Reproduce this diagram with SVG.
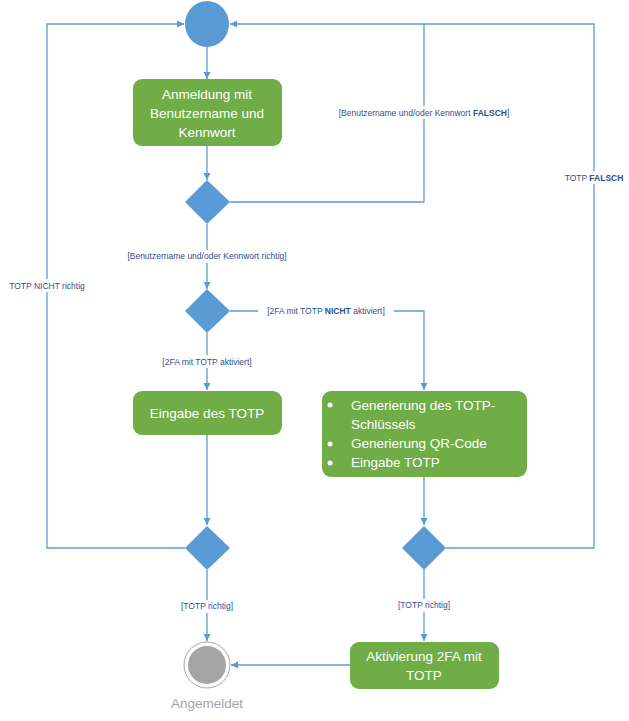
<svg xmlns="http://www.w3.org/2000/svg" width="629" height="721" viewBox="0 0 629 721">
<style>
.c{fill:none;stroke:#5b9bd5;stroke-width:1.3}
.n{fill:#5b9bd5}
.b{fill:#70ad47}
.t{font-family:"Liberation Sans",Arial,sans-serif;font-size:13.5px;fill:#fff;text-anchor:middle}
.l{font-family:"Liberation Sans",Arial,sans-serif;font-size:8.5px;fill:#2f4f8f;text-anchor:middle}
.lb{fill:#fff}
</style>
<defs><marker id="a" markerWidth="8" markerHeight="8" refX="7" refY="4" orient="auto" markerUnits="userSpaceOnUse"><path d="M0,0.5 L7,4 L0,7.5z" fill="#5b9bd5"/></marker></defs>
<rect width="629" height="721" fill="#fff"/>
<g id="connectors">
<path class="c" d="M207,47 V79" marker-end="url(#a)"/>
<path class="c" d="M207,146 V180" marker-end="url(#a)"/>
<path class="c" d="M230,202 H424 V24 H230" marker-end="url(#a)"/>
<path class="c" d="M207,224 V289" marker-end="url(#a)"/>
<path class="c" d="M230,311 H424 V390" marker-end="url(#a)"/>
<path class="c" d="M207,333 V390" marker-end="url(#a)"/>
<path class="c" d="M207,435 V525" marker-end="url(#a)"/>
<path class="c" d="M424,477 V525" marker-end="url(#a)"/>
<path class="c" d="M185,548 H47 V24 H184" marker-end="url(#a)"/>
<path class="c" d="M446,548 H594 V24 H424"/>
<path class="c" d="M207,570 V641" marker-end="url(#a)"/>
<path class="c" d="M424,570 V641" marker-end="url(#a)"/>
<path class="c" d="M350,665 H231" marker-end="url(#a)"/>
<rect x="325" y="106" width="198" height="13" class="lb"/>
<text class="l" x="424" y="116">[Benutzername und/oder Kennwort <tspan font-weight="bold">FALSCH</tspan>]</text>
<rect x="113" y="250" width="188" height="13" class="lb"/>
<text class="l" x="207" y="259">[Benutzername und/oder Kennwort richtig]</text>
<rect x="4" y="279" width="86" height="13" class="lb"/>
<text class="l" x="47" y="289">TOTP NICHT richtig</text>
<rect x="561" y="171" width="66" height="13" class="lb"/>
<text class="l" x="594" y="181">TOTP <tspan font-weight="bold">FALSCH</tspan></text>
<rect x="258" y="305" width="136" height="13" class="lb"/>
<text class="l" x="326" y="314">[2FA mit TOTP <tspan font-weight="bold">NICHT</tspan> aktiviert]</text>
<rect x="154" y="355" width="106" height="13" class="lb"/>
<text class="l" x="207" y="365">[2FA mit TOTP aktiviert]</text>
<rect x="177" y="600" width="60" height="13" class="lb"/>
<text class="l" x="207" y="609">[TOTP richtig]</text>
<rect x="394" y="599" width="60" height="13" class="lb"/>
<text class="l" x="424" y="608">[TOTP richtig]</text>
</g>
<g id="start"><ellipse class="n" cx="207" cy="24" rx="22" ry="23"/></g>
<g id="anmeldung"><rect class="b" x="133" y="79" width="149" height="67" rx="9"/>
<text class="t" x="207" y="99">Anmeldung mit</text><text class="t" x="207" y="118">Benutzername und</text><text class="t" x="207" y="137">Kennwort</text></g>
<g id="d1"><path class="n" d="M207,180 L230,202 L207,224 L185,202z"/></g>
<g id="d2"><path class="n" d="M207,289 L230,311 L207,333 L185,311z"/></g>
<g id="eingabe"><rect class="b" x="133" y="391" width="149" height="44" rx="9"/>
<text class="t" x="207" y="418">Eingabe des TOTP</text></g>
<g id="generierung"><rect class="b" x="322" y="391" width="205" height="86" rx="9"/>
<circle cx="330" cy="405" r="2.5" fill="#fff"/><circle cx="330" cy="444" r="2.5" fill="#fff"/><circle cx="330" cy="463" r="2.5" fill="#fff"/>
<text class="t" x="351" y="410" text-anchor="start" style="text-anchor:start">Generierung des TOTP-</text>
<text class="t" x="351" y="429" style="text-anchor:start">Schlüssels</text>
<text class="t" x="351" y="448" style="text-anchor:start">Generierung QR-Code</text>
<text class="t" x="351" y="467" style="text-anchor:start">Eingabe TOTP</text></g>
<g id="d3"><path class="n" d="M207,526 L230,548 L207,570 L185,548z"/></g>
<g id="d4"><path class="n" d="M424,526 L446,548 L424,570 L402,548z"/></g>
<g id="aktivierung"><rect class="b" x="350" y="642" width="149" height="47" rx="9"/>
<text class="t" x="424" y="661">Aktivierung 2FA mit</text><text class="t" x="424" y="680">TOTP</text></g>
<g id="end"><circle cx="207" cy="665" r="23" fill="#fff" stroke="#a5a5a5" stroke-width="1"/><circle cx="207" cy="665" r="19" fill="#a5a5a5"/>
<text x="207" y="708" style="font-family:'Liberation Sans',Arial,sans-serif;font-size:13.5px;fill:#a5a5a5;text-anchor:middle">Angemeldet</text></g>
</svg>
